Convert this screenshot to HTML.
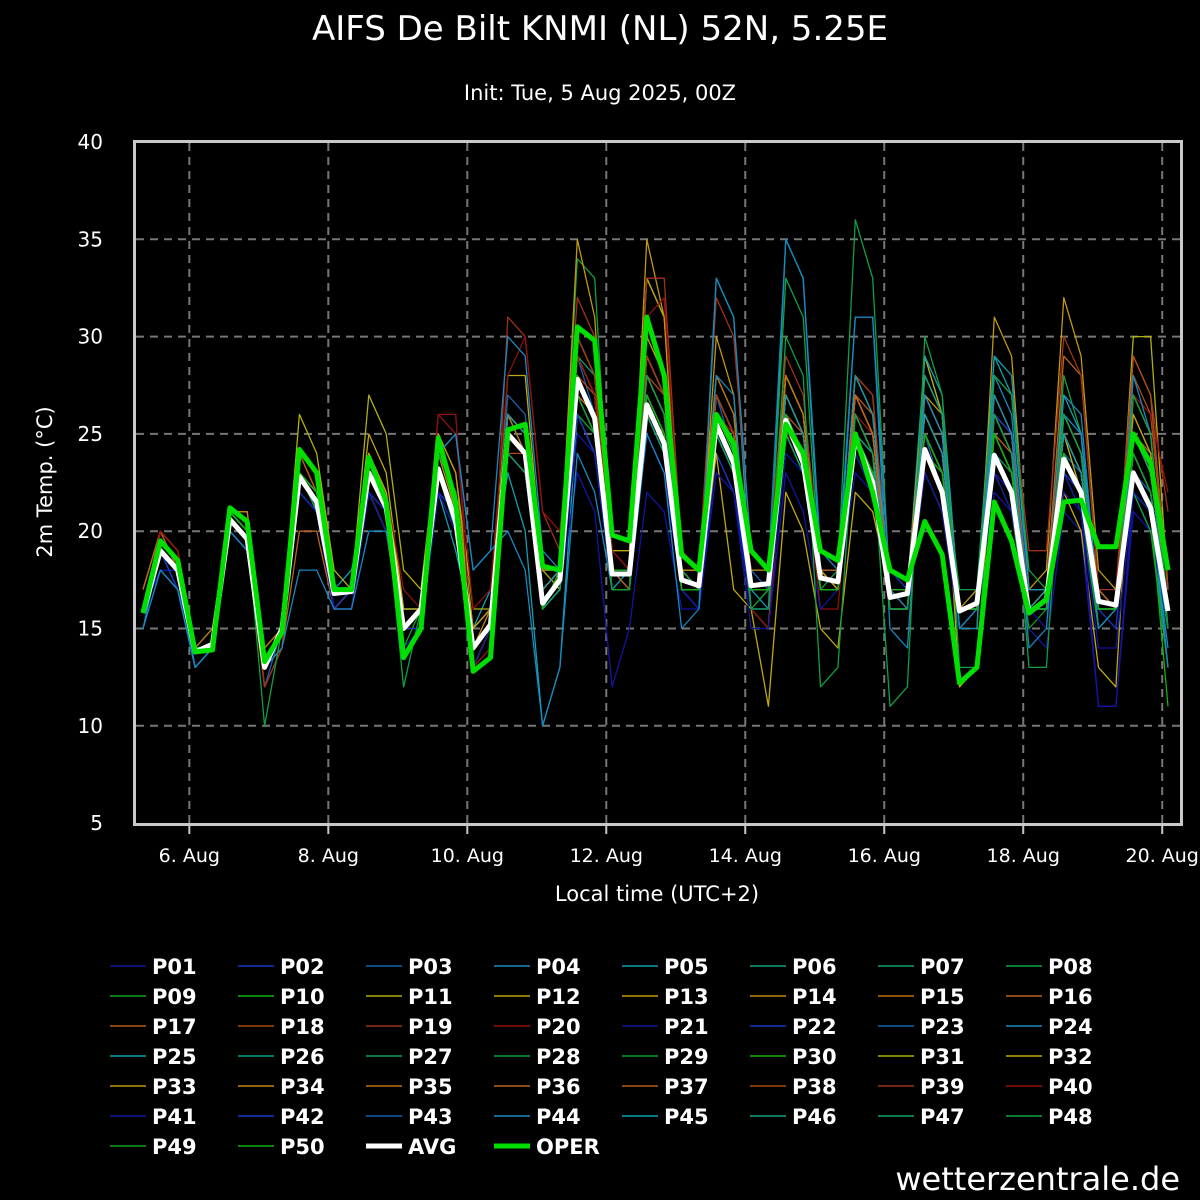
<!DOCTYPE html>
<html><head><meta charset="utf-8">
<style>
html,body{margin:0;padding:0;background:#000;}
svg{display:block;font-family:"DejaVu Sans","Liberation Sans",sans-serif;}
</style></head>
<body>
<svg id="c" width="1200" height="1200" viewBox="0 0 1200 1200" xmlns="http://www.w3.org/2000/svg">
<rect width="1200" height="1200" fill="#000"/>
<text x="600" y="40" fill="#fff" font-size="34" text-anchor="middle">AIFS De Bilt KNMI (NL) 52N, 5.25E</text>
<text x="600" y="100" fill="#fff" font-size="21" text-anchor="middle">Init: Tue, 5 Aug 2025, 00Z</text>
<g id="grid"></g>
<g id="series"></g>
<rect x="134.5" y="141.5" width="1047" height="683" fill="none" stroke="#c8c8c8" stroke-width="3"/>
<g id="axes"></g>
<text x="52" y="482" fill="#fff" font-size="21" text-anchor="middle" transform="rotate(-90 52 482)">2m Temp. (°C)</text>
<text x="657" y="901" fill="#fff" font-size="21" text-anchor="middle">Local time (UTC+2)</text>
<g id="legend"></g>
<text x="1180" y="1190" fill="#fff" font-size="32" text-anchor="end">wetterzentrale.de</text>
</svg>
<script>
const yTicks = [5,10,15,20,25,30,35,40];
const xTickLabels = ["6. Aug","8. Aug","10. Aug","12. Aug","14. Aug","16. Aug","18. Aug","20. Aug"];
const xTickHours = [16,64,112,160,208,256,304,352];
const stepHours = 6;
const avg = [15.8,19.0,18.0,13.8,14.2,20.6,19.6,13.0,15.0,22.8,21.5,16.8,16.9,23.0,21.2,15.0,16.0,23.2,20.5,14.0,15.2,25.0,24.0,16.3,17.5,27.8,25.8,17.8,17.8,26.5,24.5,17.5,17.2,25.5,23.5,17.2,17.3,25.7,23.5,17.6,17.4,24.8,22.5,16.6,16.8,24.2,22.0,15.9,16.3,23.9,22.0,15.8,16.5,23.7,22.0,16.4,16.2,23.0,21.2,15.9];
const oper = [15.8,19.5,18.5,13.8,13.9,21.2,20.5,13.3,14.8,24.2,23.0,17.0,17.0,23.8,21.5,13.5,15.0,24.8,21.5,12.8,13.5,25.2,25.5,18.2,18.0,30.5,29.8,19.8,19.5,31.0,28.0,18.8,18.0,26.0,24.5,19.0,18.0,25.5,24.0,19.0,18.5,25.0,22.0,18.0,17.5,20.5,18.8,12.2,13.0,21.5,19.5,15.8,16.5,21.5,21.6,19.2,19.2,25.0,23.5,18.0];
const P01=[16,19,18,14,14,21,20,13,15,22,21,16,16,22,21,15,15,22,20,13,14,24,23,16,17,26,25,17,17,25,23,17,16,24,22,16,16,25,23,17,17,23,22,16,16,23,21,15,16,22,21,15,14,21,20,11,11,21,20,17];
const P02=[15,18,18,13,14,20,19,13,14,23,22,16,17,24,21,15,16,24,21,14,15,26,25,17,18,29,27,18,17,27,25,17,16,24,22,17,17,27,25,18,17,26,24,18,17,25,23,16,16,25,23,16,16,23,22,16,15,24,22,16];
const P03=[16,19,17,13,14,21,20,12,15,23,21,17,17,23,22,15,16,23,21,14,15,27,26,17,18,29,26,17,17,28,26,18,17,27,24,18,17,26,25,18,18,27,25,17,16,25,22,15,16,24,22,16,16,24,23,17,16,23,22,15];
const P04=[15,19,18,14,15,21,20,13,15,22,21,17,17,22,20,15,16,23,21,15,16,25,24,16,18,27,25,17,17,26,24,17,17,25,23,16,17,26,24,18,18,26,24,17,17,26,24,16,16,24,22,16,17,25,22,15,16,22,21,14];
const P05=[16,18,17,13,14,20,19,14,15,22,21,17,18,22,20,16,16,22,19,15,17,23,20,10,13,26,24,17,18,27,25,18,17,33,31,17,16,35,33,18,17,28,26,17,17,27,25,16,17,29,27,17,17,26,24,15,16,22,21,13];
const P06=[16,19,18,14,14,21,20,13,15,23,22,17,17,23,21,15,16,24,22,14,15,24,23,16,17,29,28,18,18,28,26,19,18,26,24,18,18,27,25,18,18,26,24,17,17,26,24,16,16,25,23,16,16,26,24,17,16,25,23,16];
const P07=[16,19,18,14,14,21,20,14,15,22,21,17,17,23,21,15,16,23,20,14,15,24,23,16,17,28,26,17,17,27,25,17,17,25,23,17,17,26,24,18,17,25,23,17,17,24,22,16,16,24,22,16,17,24,22,16,16,23,21,16];
const P08=[16,19,18,14,14,21,20,13,15,23,22,17,17,23,21,15,16,23,21,13,15,25,24,16,18,34,33,18,18,30,28,18,17,26,24,17,17,33,31,17,18,36,33,17,16,29,26,15,16,27,25,16,16,28,25,16,16,29,27,17];
const P09=[16,19,18,14,14,21,20,13,14,23,21,16,17,22,21,14,16,22,20,13,15,24,23,16,17,26,25,17,17,26,24,17,17,25,23,16,17,25,23,17,17,24,22,16,16,23,21,15,16,23,21,15,16,23,21,15,16,22,20,15];
const P10=[16,19,18,14,15,21,20,13,15,23,22,17,17,23,21,15,16,23,21,14,15,25,24,17,18,27,25,17,17,26,24,17,17,26,24,17,17,26,24,18,17,25,23,17,17,25,23,16,16,24,22,16,17,24,22,16,16,23,21,16];
const P11=[16,19,18,14,14,21,20,13,15,26,24,18,17,27,25,18,17,25,23,16,16,26,25,18,17,27,26,17,17,33,31,19,18,26,24,17,17,25,23,17,17,24,22,16,16,27,25,15,16,26,24,16,17,25,22,17,16,30,30,17];
const P12=[16,19,18,14,14,21,20,13,15,24,23,17,17,25,23,16,16,24,22,15,16,28,28,18,18,30,28,19,19,33,31,17,17,24,17,16,11,22,20,15,14,22,21,17,16,29,26,12,13,25,23,16,17,22,20,13,12,27,25,15];
const P13=[16,20,18,14,14,21,21,13,15,23,22,17,17,24,22,16,16,24,22,14,15,26,25,17,18,35,31,18,17,35,31,18,17,30,27,16,15,28,26,17,17,28,27,16,16,27,26,15,15,31,29,17,18,32,29,18,17,26,24,16];
const P14=[17,20,19,14,14,21,21,14,15,24,22,17,17,23,21,15,16,24,21,15,16,26,24,17,18,28,26,18,18,28,26,18,18,27,25,18,18,28,26,18,18,27,25,17,17,26,24,16,17,25,23,17,17,26,24,17,16,25,23,16];
const P15=[17,20,19,14,15,21,20,14,15,22,21,16,17,23,21,15,15,23,21,14,15,24,23,16,17,27,25,18,18,27,25,18,17,26,24,17,17,27,25,18,17,26,24,17,17,25,23,16,16,24,22,16,17,25,23,16,16,24,22,16];
const P16=[17,20,18,14,14,20,19,12,14,20,20,16,16,22,20,14,15,22,20,13,15,24,23,16,17,27,26,17,17,26,25,17,17,27,25,16,16,28,26,18,17,27,25,17,17,26,24,15,16,25,24,17,17,29,28,17,16,25,24,16];
const P17=[16,20,18,14,14,21,20,13,15,24,22,17,17,23,21,15,16,23,21,14,15,26,25,17,18,28,26,18,18,29,27,18,18,27,25,17,17,28,26,18,18,27,26,17,17,26,24,16,16,27,25,16,17,25,23,16,16,25,23,16];
const P18=[16,19,18,14,14,21,20,13,15,23,21,16,17,23,21,15,16,24,22,13,15,24,24,16,18,28,27,18,18,28,27,19,18,27,25,17,17,26,25,17,17,28,26,17,16,25,23,16,16,26,25,17,17,26,24,16,16,28,26,17];
const P19=[16,19,18,14,14,21,20,12,14,23,21,16,17,24,22,15,16,24,22,13,14,31,30,21,19,32,30,19,18,33,33,19,18,32,30,19,18,29,27,18,17,28,27,17,17,26,24,16,16,28,27,19,19,30,28,17,17,29,27,21];
const P20=[16,20,19,14,14,21,20,13,15,23,22,17,17,23,22,17,16,26,25,16,17,28,30,21,20,29,27,19,18,31,32,18,17,26,25,16,15,25,24,16,16,26,25,17,16,24,23,17,17,26,25,17,17,25,23,16,16,27,26,22];
const P21=[16,18,18,14,14,20,19,13,15,22,21,16,16,22,20,15,16,22,20,14,15,24,23,16,17,23,21,12,15,22,21,16,16,23,22,15,15,23,21,16,17,24,22,16,16,23,21,15,16,23,22,16,15,22,21,14,14,22,20,15];
const P22=[16,19,17,14,14,21,20,13,15,22,21,16,17,23,21,15,15,22,21,14,15,24,23,16,17,26,24,17,17,26,24,17,17,25,23,16,16,25,23,17,17,26,24,17,17,25,23,16,16,26,25,17,17,24,22,16,16,24,22,15];
const P23=[16,19,18,14,14,21,20,13,15,23,22,17,17,23,21,16,16,23,21,14,15,25,24,16,17,28,26,18,18,27,25,18,17,26,24,17,17,26,24,17,17,25,24,17,17,25,23,16,16,25,23,16,17,25,23,16,16,24,22,16];
const P24=[16,19,18,13,14,21,20,13,15,22,21,17,17,23,21,15,16,24,25,18,19,30,29,19,18,30,28,18,17,29,27,17,16,33,31,19,18,35,33,19,18,31,31,17,16,28,26,15,15,28,26,16,16,27,26,16,16,28,25,16];
const P25=[16,19,18,14,14,21,20,13,15,22,21,17,17,22,21,15,16,23,21,14,15,26,24,16,17,28,26,17,17,27,25,17,17,27,25,17,17,28,26,18,17,28,26,17,17,29,27,16,16,29,28,17,17,27,25,16,16,26,24,15];
const P26=[16,19,18,14,14,21,20,13,15,23,22,17,17,23,21,15,16,23,21,14,15,25,24,16,18,28,26,18,18,28,26,18,17,26,24,17,17,26,24,17,17,25,24,16,16,25,23,15,16,24,22,16,17,24,22,16,16,23,21,15];
const P27=[16,19,18,14,14,21,20,13,15,23,21,17,17,22,21,15,16,23,21,14,15,24,23,16,17,27,25,17,17,26,24,17,17,26,24,17,17,27,25,17,17,26,24,16,16,25,23,15,16,24,23,16,16,24,22,16,16,23,21,15];
const P28=[16,19,18,14,14,21,20,13,15,23,22,17,17,23,21,15,16,24,22,14,15,25,24,16,17,28,26,17,17,26,24,17,17,25,23,17,17,26,24,17,17,26,24,17,17,26,24,17,17,28,27,18,17,24,22,16,16,22,20,13];
const P29=[16,19,18,14,14,21,20,13,15,23,22,17,17,23,21,15,16,24,22,14,15,25,24,16,17,27,25,17,17,26,24,17,17,25,23,17,17,25,23,17,17,25,23,16,16,25,23,16,16,24,22,16,16,24,22,16,16,23,21,15];
const P30=[16,19,18,14,14,21,20,13,15,23,22,17,17,23,21,15,16,23,21,14,15,25,24,16,18,28,26,18,18,27,25,17,17,25,23,17,17,25,23,17,17,25,23,17,17,24,23,16,16,24,22,16,17,24,22,16,16,23,21,16];
const P31=[16,19,18,14,14,21,20,13,15,23,22,17,17,23,21,15,16,23,21,14,15,25,24,16,18,29,27,18,18,29,27,17,17,27,25,17,17,26,24,17,17,26,24,17,17,26,24,16,16,25,23,16,17,25,23,16,16,24,22,16];
const P32=[16,19,18,14,14,21,20,13,15,24,23,17,17,24,22,16,16,24,22,15,16,26,25,17,18,29,27,18,18,29,27,18,17,27,25,17,17,27,25,18,17,27,25,17,17,26,24,16,16,26,24,16,17,25,23,16,16,25,23,16];
const P33=[16,19,18,14,14,21,20,13,15,23,22,17,17,23,21,15,16,25,23,15,16,26,25,17,18,30,28,18,18,30,28,18,18,28,26,17,17,28,26,18,17,27,25,17,17,28,26,16,16,27,25,16,17,26,24,16,16,26,24,16];
const P34=[16,19,18,14,14,21,20,13,15,23,22,17,17,23,21,15,16,24,22,14,16,26,25,17,18,29,27,18,18,29,27,18,17,26,24,17,17,27,25,17,17,26,24,17,17,25,23,16,16,25,23,16,17,25,23,16,16,24,22,16];
const P35=[16,19,18,14,14,21,20,13,15,23,22,17,17,23,21,15,16,24,22,14,15,26,24,16,18,28,26,18,18,28,26,18,17,28,26,17,17,28,26,17,17,27,25,17,17,27,25,16,16,26,24,16,17,26,24,16,16,25,23,16];
const P36=[16,19,18,14,14,21,20,13,15,23,22,17,17,23,21,15,16,24,22,14,15,25,24,16,18,28,26,18,18,28,26,18,17,26,24,17,17,27,25,17,17,27,25,17,17,26,24,16,16,26,24,16,17,26,24,16,16,25,23,16];
const P37=[16,19,18,14,14,21,20,13,15,23,22,17,17,23,21,15,16,23,21,14,15,25,24,16,18,29,27,18,17,28,26,17,17,26,24,17,17,26,24,17,17,26,24,17,17,25,23,16,16,26,24,16,17,25,23,16,16,24,22,16];
const P38=[16,19,18,14,14,21,20,13,15,23,22,17,17,23,21,15,16,23,21,14,15,24,23,16,17,27,25,17,17,27,25,17,17,26,24,17,17,26,24,17,17,26,24,16,16,25,23,16,16,27,25,16,16,25,23,16,16,29,27,17];
const P39=[16,19,18,14,14,21,20,13,15,23,22,17,17,23,21,15,16,24,22,14,15,26,25,17,18,30,28,18,18,29,27,18,17,27,25,17,17,27,25,17,17,26,24,16,16,26,24,16,16,26,24,16,17,26,24,16,16,25,23,16];
const P40=[16,19,18,14,14,21,20,13,15,23,22,17,17,23,21,15,16,26,26,13,14,24,23,16,18,29,27,18,18,28,26,17,17,26,24,17,17,26,24,17,17,26,24,17,17,25,23,16,16,25,23,16,17,25,23,16,16,24,22,16];
const P41=[16,19,18,14,14,21,20,13,15,22,21,16,16,22,21,14,15,22,20,13,15,24,23,16,17,25,24,17,17,25,23,17,16,23,22,16,16,24,23,17,17,24,22,16,16,24,22,15,16,23,21,16,16,23,21,11,11,22,21,16];
const P42=[16,19,18,14,14,21,20,13,15,23,22,17,17,23,21,15,16,23,21,14,15,25,24,16,17,27,25,17,17,26,24,17,17,25,23,17,17,26,24,17,17,25,23,16,16,24,22,16,16,25,23,16,16,24,22,16,16,23,21,15];
const P43=[16,19,18,14,14,21,20,13,15,23,22,17,17,23,21,15,16,23,21,14,15,25,24,16,17,27,25,17,17,26,24,17,17,26,24,17,17,25,23,17,17,25,23,16,16,25,23,16,16,24,22,16,16,24,22,16,16,23,21,15];
const P44=[15,18,17,13,14,20,19,13,14,18,18,16,16,20,20,15,16,24,25,18,19,20,18,10,13,24,22,17,17,25,23,15,16,28,27,16,16,26,24,17,17,31,31,15,14,27,25,15,16,27,25,14,15,26,25,15,16,24,22,13];
const P45=[16,19,18,14,14,21,20,13,15,23,22,17,17,23,21,15,16,23,21,14,15,26,25,17,18,28,26,18,18,28,26,18,17,26,24,17,17,27,25,17,17,26,24,17,17,26,24,16,16,26,24,16,17,25,23,16,16,24,22,16];
const P46=[16,19,18,14,14,21,20,13,15,23,22,17,17,23,21,15,16,23,21,14,15,25,24,16,17,28,26,18,18,27,25,17,17,26,24,17,17,26,24,17,17,25,23,16,16,28,26,16,16,25,23,16,16,26,24,16,16,25,23,16];
const P47=[16,19,18,14,14,21,20,13,15,23,22,17,17,23,21,15,16,23,21,14,15,24,23,16,17,27,25,17,17,26,24,17,17,25,23,17,17,25,23,17,17,25,23,16,16,24,22,16,16,24,22,16,16,24,22,16,16,23,21,15];
const P48=[16,19,18,14,14,21,20,10,15,23,22,17,17,23,21,12,16,24,22,14,15,25,24,16,18,28,26,18,18,28,26,18,17,26,24,16,16,30,28,12,13,26,24,11,12,30,27,13,13,26,24,13,13,26,24,16,16,27,25,16];
const P49=[16,19,18,14,14,21,20,13,15,23,22,17,17,23,21,15,16,23,21,14,15,25,24,16,18,27,25,17,17,27,25,17,17,26,24,17,17,26,24,17,17,25,23,16,16,25,23,16,16,25,23,16,16,24,22,16,16,24,22,15];
const P50=[16,19,18,14,14,21,20,13,15,23,22,17,17,23,21,15,16,23,21,14,15,25,24,16,18,28,26,18,18,27,25,17,17,26,24,17,17,26,24,17,17,25,23,17,17,25,23,16,16,25,23,16,16,24,22,16,16,23,21,11];
const members=[P01,P02,P03,P04,P05,P06,P07,P08,P09,P10,P11,P12,P13,P14,P15,P16,P17,P18,P19,P20,P21,P22,P23,P24,P25,P26,P27,P28,P29,P30,P31,P32,P33,P34,P35,P36,P37,P38,P39,P40,P41,P42,P43,P44,P45,P46,P47,P48,P49,P50];
const palette=["#1414a0","#1838c8","#1860b0","#1888c0","#10a0b0","#10a080","#10a060","#10a040","#10a020","#14b010","#b0b010","#c0a810","#c09810","#c08810","#c07010","#c06020","#b85818","#b04818","#a03018","#901010"];

const NS="http://www.w3.org/2000/svg";
const X0=143, X1=1168, H1=354, Y0=142, PXD=19.46;
function xs(h){return X0+h*(X1-X0)/H1;}
function ys(v){return Y0+(40-v)*PXD;}
function mk(tag,attrs,parent){const e=document.createElementNS(NS,tag);for(const k in attrs)e.setAttribute(k,attrs[k]);parent.appendChild(e);return e;}
const grid=document.getElementById('grid'), axes=document.getElementById('axes'), ser=document.getElementById('series'), leg=document.getElementById('legend');

yTicks.forEach(v=>{
  if(v>5&&v<40){const l=mk('line',{x1:136,x2:1180,y1:ys(v),y2:ys(v),stroke:'#777','stroke-width':2,'stroke-dasharray':'8,6'},grid);
  
  }
  const t=mk('text',{x:103,y:ys(v)+7,fill:'#fff','font-size':20,'text-anchor':'end'},axes);
  t.textContent=v;
  
  
});
xTickHours.forEach((h,i)=>{
  const l=mk('line',{x1:xs(h),x2:xs(h),y1:143,y2:823,stroke:'#777','stroke-width':2,'stroke-dasharray':'8,6'},grid);
  
  
  const tk=mk('line',{x1:xs(h),x2:xs(h),y1:826,y2:834,stroke:'#c8c8c8','stroke-width':2},axes);
  
  
  const t=mk('text',{x:xs(h),y:862,fill:'#fff','font-size':19,'text-anchor':'middle'},axes);
  t.textContent=xTickLabels[i];
  
  
});
function pts(arr){return arr.map((v,i)=>xs(i*stepHours).toFixed(1)+','+ys(v).toFixed(1)).join(' ');}
members.forEach((m,k)=>{
  const p=mk('polyline',{points:pts(m),fill:'none',stroke:palette[k%20],'stroke-width':1.3,'stroke-linejoin':'round'},ser);
  
  
});
const pa=mk('polyline',{points:pts(avg),fill:'none',stroke:'#fff','stroke-width':5,'stroke-linejoin':'round'},ser);


const po=mk('polyline',{points:pts(oper),fill:'none',stroke:'#00e000','stroke-width':5,'stroke-linejoin':'round'},ser);



const legendItems=[];
for(let k=0;k<50;k++)legendItems.push({label:'P'+String(k+1).padStart(2,'0'),color:palette[k%20],w:1.6});
legendItems.push({label:'AVG',color:'#fff',w:5});
legendItems.push({label:'OPER',color:'#00e000',w:5});
legendItems.forEach((it,i)=>{
  const col=i%8,row=Math.floor(i/8);
  const x=110+col*128,y=966+row*30;
  const g=mk('g',{},leg);
  
  
  mk('line',{x1:x,x2:x+36,y1:y,y2:y,stroke:it.color,'stroke-width':it.w},g);
  const t=mk('text',{x:x+42,y:y+8,fill:'#fff','font-size':21,'font-weight':'bold'},g);
  t.textContent=it.label;
});
</script>
</body></html>
